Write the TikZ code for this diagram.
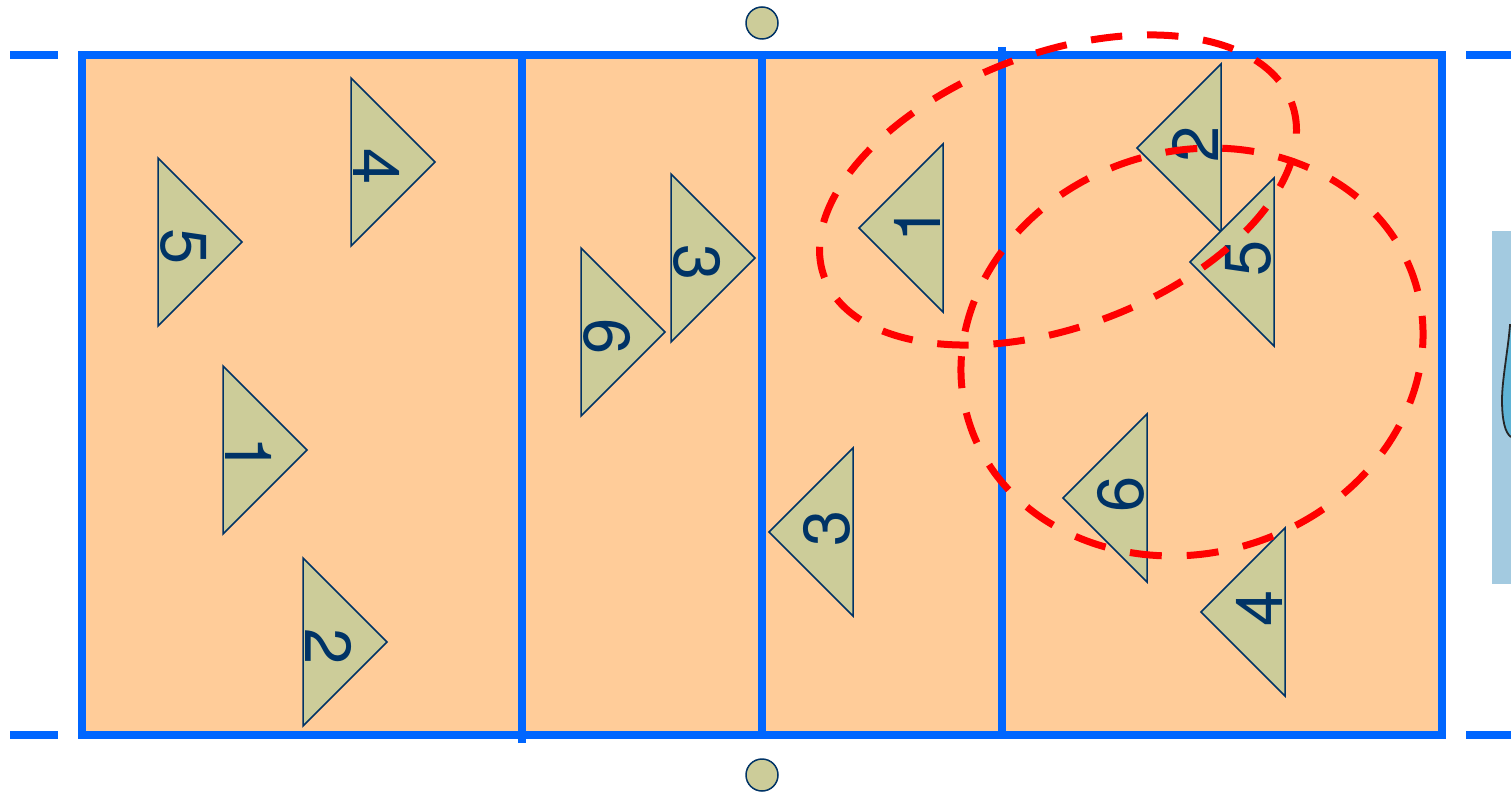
\documentclass[tikz,border=0pt]{standalone}
\usepackage{fontspec}
\setmainfont{TeX Gyre Heros}
\definecolor{court}{HTML}{FFCC99}
\definecolor{lineblue}{HTML}{0066FF}
\definecolor{olive}{HTML}{CCCC99}
\definecolor{navy}{HTML}{003366}
\definecolor{panel}{HTML}{A3CAE0}
\definecolor{panelin}{HTML}{5FB4D6}
\tikzset{
  courtline/.style={draw=lineblue,line width=8pt},
  playertri/.style={draw=navy,fill=olive,line width=1.5pt,line join=miter},
  digit/.style={text=navy,inner sep=0pt,font=\fontsize{65}{65}\selectfont},
  post/.style={circle,draw=navy,fill=olive,line width=1.5pt,minimum size=32pt,inner sep=0pt},
  zoneone/.style={draw=red,line width=7pt,dash pattern=on 31.5pt off 24.8pt},
  zonetwo/.style={draw=red,line width=7pt,dash pattern=on 32pt off 24.96pt,dash phase=22pt}
}
% right-pointing triangle: left x, top y, name, digit
\newcommand{\trir}[4]{%
  \draw[playertri] (#1,#2) -- ++(0,168) -- ++(84,-84) -- cycle;
  \node[digit,rotate=-90] (#3) at (#1+26,#2+89) {#4};}
% left-pointing triangle: right x, top y, name, digit
\newcommand{\tril}[4]{%
  \draw[playertri] (#1,#2) -- ++(0,168) -- ++(-84,-84) -- cycle;
  \node[digit,rotate=90] (#3) at (#1-26,#2+80) {#4};}
\begin{document}
\begin{tikzpicture}[x=1pt,y=-1pt]
\useasboundingbox (0,0) rectangle (1511,794);
% side panel
\fill[panel] (1492,231) rectangle (1511,584);
\fill[panelin] (1511,325) -- (1510,325) .. controls (1508,350) and (1502,380) .. (1502,400) .. controls (1502,420) and (1505,433) .. (1511,437) -- cycle;
\draw[black!85,line width=1.8pt] (1511,325) -- (1510,325) .. controls (1508,350) and (1502,380) .. (1502,400) .. controls (1502,420) and (1505,433) .. (1511,437);
% court
\fill[court] (82,55) rectangle (1442,735);
\draw[courtline,line join=miter] (82,55) rectangle (1442,735);
\draw[courtline] (522,55) -- (522,743);
\draw[courtline] (762,51) -- (762,739);
\draw[courtline] (1002,47) -- (1002,739);
\draw[courtline] (10,55) -- (58,55);
\draw[courtline] (10,735) -- (58,735);
\draw[courtline] (1466,55) -- (1511,55);
\draw[courtline] (1466,735) -- (1511,735);
% posts
\node[post] (p1) at (762,23) {};
\node[post] (p2) at (762,775) {};
% players
\trir{158}{158}{a5}{5}
\trir{351}{78}{a4}{4}
\trir{223}{366}{a1}{1}
\trir{303}{558}{a2}{2}
\trir{671}{174}{a3}{3}
\trir{581}{248}{a6}{6}
\tril{943}{144}{b1}{1}
\tril{1221}{64}{b2}{2}
\tril{1274}{178}{b5}{5}
\tril{1147}{414}{b6}{6}
\tril{1285}{528}{b4}{4}
\tril{853}{448}{b3}{3}
% zones
\draw[zoneone,rotate around={20.5:(1058,190)}] (1058,190) ellipse [x radius=249.4,y radius=136.8];
\draw[zonetwo,rotate around={17.5:(1192,352)}] (1192,352) ellipse [x radius=233.8,y radius=200.7];
\end{tikzpicture}
\end{document}
